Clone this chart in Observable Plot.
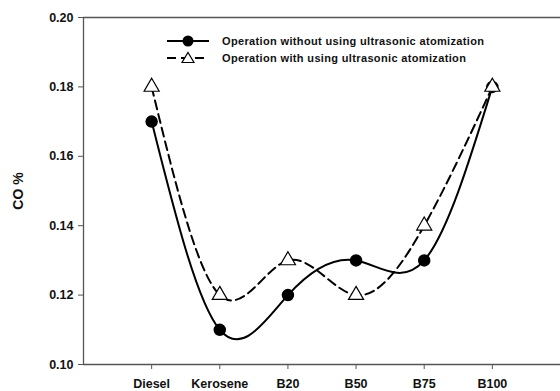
<!DOCTYPE html>
<html>
<head>
<meta charset="utf-8">
<script src="https://cdn.jsdelivr.net/npm/d3@7"></script>
<script src="https://cdn.jsdelivr.net/npm/@observablehq/plot@0.6"></script>
<style>
  body { margin: 0; background: #fff; }
  #wrap { position: relative; width: 560px; height: 391px; }
  #legend { position: absolute; left: 166px; top: 32px; font-family: "Liberation Sans", Arial, sans-serif; font-weight: bold; font-size: 11px; letter-spacing: 0.35px; color: #111; }
  #legend .row { display: flex; align-items: center; height: 17px; }
  #legend svg { margin-right: 12px; }
</style>
</head>
<body>
<div id="wrap">
  <div id="chart"></div>
  <div id="legend"></div>
</div>
<script>
const fuels = ["Diesel", "Kerosene", "B20", "B50", "B75", "B100"];
const withoutUltrasonic = [0.17, 0.11, 0.12, 0.13, 0.13, 0.18];
const withUltrasonic = [0.18, 0.12, 0.13, 0.12, 0.14, 0.18];
const yTicks = [0.10, 0.12, 0.14, 0.16, 0.18, 0.20];
const seriesNames = ["Operation without using ultrasonic atomization", "Operation with using ultrasonic atomization"];

const dataA = fuels.map((f, i) => ({i: i + 1, fuel: f, v: withoutUltrasonic[i]}));
const dataB = fuels.map((f, i) => ({i: i + 1, fuel: f, v: withUltrasonic[i]}));

const axisColor = "#555";

const chart = Plot.plot({
  width: 560,
  height: 391,
  marginLeft: 83,
  marginRight: 0,
  marginTop: 17,
  marginBottom: 27,
  style: {fontFamily: "'Liberation Sans', Arial, sans-serif", fontSize: "12.5px", fontWeight: "bold", color: "#111", background: "#fff"},
  x: {domain: [0, 7]},
  y: {domain: [0.10, 0.20]},
  marks: [
    Plot.ruleX([0], {stroke: axisColor, strokeWidth: 1.3}),
    Plot.ruleY([0.10, 0.20], {stroke: axisColor, strokeWidth: 1.3}),
    Plot.axisX({ticks: d3.range(1, 7), tickFormat: d => fuels[d - 1], tickSize: 5, tickPadding: 10, stroke: axisColor, label: null}),
    Plot.axisY({ticks: yTicks, tickFormat: d3.format(".2f"), tickSize: 5, tickPadding: 5, stroke: axisColor, label: null}),
    Plot.axisY({ticks: [], label: "CO %", labelAnchor: "center", labelArrow: "none", labelOffset: 70, fontSize: 14}),
    Plot.line(dataA, {x: "i", y: "v", curve: "natural", stroke: "#000", strokeWidth: 2}),
    Plot.line(dataB, {x: "i", y: "v", curve: "natural", stroke: "#000", strokeWidth: 2, strokeDasharray: "9,5"}),
    Plot.dot(dataA, {x: "i", y: "v", r: 5.5, fill: "#000", stroke: "#000"}),
    Plot.dot(dataB, {x: "i", y: "v", symbol: "triangle", r: 5.6, fill: "#fff", stroke: "#000", strokeWidth: 1.2})
  ]
});
document.getElementById("chart").appendChild(chart);

// legend
const legend = document.getElementById("legend");
const sym = [
  `<svg width="44" height="14"><line x1="1" y1="7" x2="43" y2="7" stroke="#000" stroke-width="2"/><circle cx="22" cy="7" r="5.5" fill="#000"/></svg>`,
  `<svg width="44" height="14"><line x1="1" y1="7" x2="43" y2="7" stroke="#000" stroke-width="2" stroke-dasharray="9,5"/><path d="M22,1.5 L28,11.5 L16,11.5 Z" fill="#fff" stroke="#000" stroke-width="1.2"/></svg>`
];
seriesNames.forEach((n, k) => {
  const row = document.createElement("div");
  row.className = "row";
  row.innerHTML = sym[k] + `<span>${n}</span>`;
  legend.appendChild(row);
});
</script>
</body>
</html>
